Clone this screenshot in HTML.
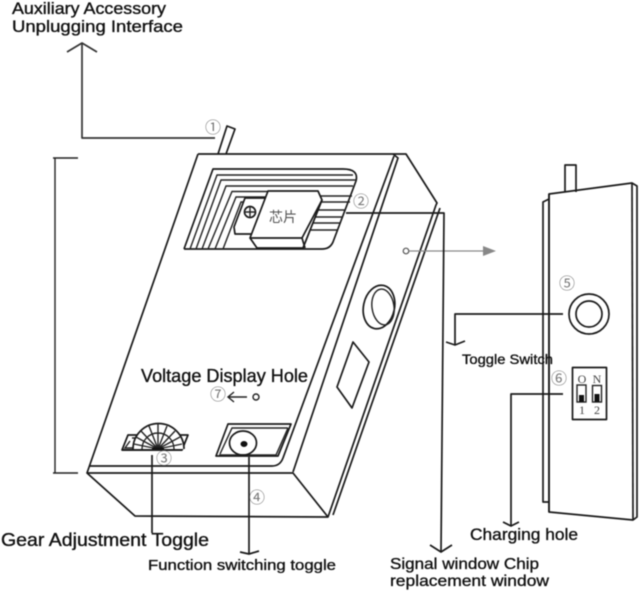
<!DOCTYPE html>
<html>
<head>
<meta charset="utf-8">
<style>
html,body{margin:0;padding:0;background:#fff;width:640px;height:591px;overflow:hidden}
svg{display:block;filter:blur(.45px)}
text{font-family:"Liberation Sans","Noto Sans CJK SC",sans-serif;fill:#111;stroke:#111;stroke-width:.35}
.n{font-family:"Noto Sans CJK JP",sans-serif;font-size:16px;fill:#777;stroke:none;text-anchor:middle}
.l{fill:none;stroke:#1a1a1a;stroke-width:1.7;stroke-linejoin:round}
.t{fill:none;stroke:#222;stroke-width:1.4}
</style>
</head>
<body>
<svg width="640" height="591" viewBox="0 0 640 591" xmlns="http://www.w3.org/2000/svg">
<!-- top-left leader -->
<path class="l" style="stroke:#333" d="M215 138H82V44"/>
<path class="l" style="stroke:#333" d="M67 52L82 43L97 52"/>
<!-- dimension bracket -->
<path class="t" d="M53 158H78M55 158V473M53 473H78"/>
<!-- antenna -->
<path class="l" d="M218 154L227 126L235 129L226 154"/>
<!-- main body -->
<path class="l" d="M198 154H406L437 203L436 205L328 517L135 516L87 473L198 154"/>
<path class="l" d="M87 473H293L328 517M293 472L398 158L393 154"/>
<path class="l" d="M394 156L283 458Q280 466 272 466H90"/>
<path class="l" d="M440 208L333 515"/>
<!-- vent -->
<path class="l" d="M184 249L213 169H343Q359 169 356 181L333 242Q330 249 322 249H184"/>
<path class="t" d="M190 249L217 175H353M196 249L221 180H356M202 249L226 186H353M208 249L232 191.500H268M215 249L236 197H266M223 249L241 202H262"/>
<path class="t" d="M320 196H352M320 202H350M315 210H345M313 217H342M313 223H340M307 230H337"/>
<!-- chip bracket -->
<path class="l" d="M245 198H267L252 234H235L234 227L245 198Z" style="fill:#fff"/>
<circle cx="250" cy="212" r="5.500" class="l"/>
<path class="t" d="M244.500 212H255.500M250 206.500V217.500"/>
<!-- chip -->
<path class="l" style="fill:#fff" d="M268 191H318L322 200L303 248H257L250 238L268 191Z"/>
<path class="l" d="M250 238H302L322 200M302 238L305 248"/>
<text x="283" y="222" font-size="14" style="fill:#555;stroke:none" text-anchor="middle">芯片</text>
<!-- side ports -->
<ellipse cx="379" cy="307" rx="15.500" ry="22" transform="rotate(12 379 307)" class="l"/>
<ellipse cx="383" cy="307" rx="11" ry="18" transform="rotate(-8 383 307)" class="t"/>
<path class="l" d="M353 342L369 362L352 408L337 387Z"/>
<!-- signal window dot -->
<circle cx="406" cy="251" r="2.800" fill="#fff" stroke="#555" stroke-width="1.200"/>
<path d="M409 251H483" stroke="#888" stroke-width="1.300"/>
<path d="M483 246L496 251L483 256Z" fill="#888"/>
<!-- leader 2 -->
<path class="l" d="M346 213H444L441 552"/>
<path class="l" d="M430 545L441 552L452 545"/>
<!-- gear -->
<path class="l" d="M128 435H188L182 450H122Z"/>
<path class="t" d="M132 438H147M130 441L125 448H136"/>
<path class="l" d="M133 449A25 25 0 0 1 184 449" style="fill:#fff"/>
<path class="t" d="M142 449A16 16 0 0 1 174 449M158 449L158 424M158 449L149 426M158 449L141 431M158 449L136 437M158 449L134 444M158 449L167 426M158 449L175 431M158 449L180 437M158 449L182 444"/>
<path d="M152 449H164" stroke="#111" stroke-width="3"/>
<path class="l" d="M122 450H182"/>
<path class="l" d="M152 455V533"/>
<!-- function toggle -->
<path class="l" d="M216 456H278L291 424H228Z"/>
<path class="t" d="M220 454L232 428H288M219 455H276L288 428"/>
<ellipse cx="243" cy="443" rx="13.500" ry="12" class="l"/>
<ellipse cx="244" cy="444" rx="3.500" ry="3" fill="#111"/>
<path class="l" d="M249 457V554"/>
<path class="l" d="M240 552L249 554L259 551"/>
<!-- voltage hole -->
<circle cx="256" cy="397" r="3" class="t"/>
<path class="t" d="M247 397H229M234 392L228 397L234 402"/>
<!-- side view -->
<path class="l" d="M565 192V165H576V192"/>
<path class="l" d="M549 194L632 183L637 186V517L633 520L549 512Z"/>
<path class="l" d="M632 183L633 520"/>
<path class="l" d="M549 199L543 202V502H549M549 194V512"/>
<circle cx="589" cy="314" r="20" class="l"/>
<circle cx="589" cy="314" r="13" class="l"/>
<path class="l" d="M563 314H455V345"/>
<path class="l" d="M446 342L455 345L465 341"/>
<rect x="572.500" y="367.500" width="34" height="52" class="l"/>
<rect x="577" y="385" width="9" height="17" class="t"/>
<rect x="592.500" y="385.500" width="9" height="16.500" class="t"/>
<rect x="579" y="395" width="5" height="7" fill="#111"/>
<rect x="594.500" y="394" width="5" height="8" fill="#111"/>
<g font-size="12" text-anchor="middle">
<text x="582" y="383" style="font-family:'Liberation Serif',serif;stroke:none;fill:#444">O</text>
<text x="597" y="383" style="font-family:'Liberation Serif',serif;stroke:none;fill:#444">N</text>
<text x="582" y="414" style="font-family:'Liberation Serif',serif;stroke:none;fill:#444">1</text>
<text x="597" y="414" style="font-family:'Liberation Serif',serif;stroke:none;fill:#444">2</text>
</g>
<path class="l" d="M563 394H511V526"/>
<path class="l" d="M503 522L511 526L519 522"/>
<!-- circled numbers -->
<text class="n" x="213" y="133">①</text>
<text class="n" x="361" y="207">②</text>
<text class="n" x="164" y="464">③</text>
<text class="n" x="257" y="503">④</text>
<text class="n" x="567" y="289">⑤</text>
<text class="n" x="559" y="384">⑥</text>
<text class="n" x="218" y="400">⑦</text>
<!-- labels -->
<text x="12" y="14" font-size="16.500" textLength="154" lengthAdjust="spacingAndGlyphs">Auxiliary Accessory</text>
<text x="12" y="32" font-size="16.500" textLength="171" lengthAdjust="spacingAndGlyphs">Unplugging Interface</text>
<text x="141" y="382" font-size="18" textLength="167" lengthAdjust="spacingAndGlyphs">Voltage Display Hole</text>
<text x="462" y="364" font-size="14" textLength="91" lengthAdjust="spacingAndGlyphs">Toggle Switch</text>
<text x="1" y="546" font-size="18" textLength="208" lengthAdjust="spacingAndGlyphs">Gear Adjustment Toggle</text>
<text x="148" y="570" font-size="15" textLength="188" lengthAdjust="spacingAndGlyphs">Function switching toggle</text>
<text x="470" y="540" font-size="17" textLength="108" lengthAdjust="spacingAndGlyphs">Charging hole</text>
<text x="390" y="569" font-size="16" textLength="149" lengthAdjust="spacingAndGlyphs">Signal window Chip</text>
<text x="390" y="586" font-size="16" textLength="159" lengthAdjust="spacingAndGlyphs">replacement window</text>
</svg>
</body>
</html>
